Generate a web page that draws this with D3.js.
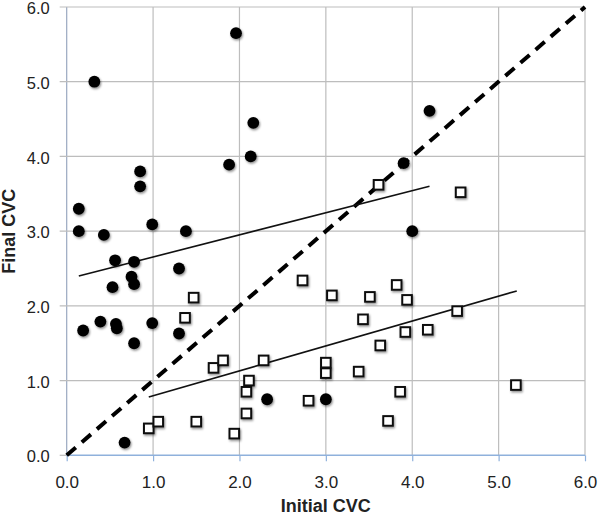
<!DOCTYPE html>
<html><head><meta charset="utf-8">
<script src="https://cdn.jsdelivr.net/npm/d3@7"></script>
<style>html,body{margin:0;padding:0;background:#fff;}svg{display:block;}</style>
</head><body>
<svg id="chart" width="600" height="515"></svg>
<script>
// Filled circles series (Initial CVC, Final CVC)
const circleX = [0.32,1.96,0.85,0.85,2.16,2.13,1.88,4.20,3.90,4.00,0.14,0.14,0.43,0.99,1.38,0.56,0.78,1.30,0.75,0.78,0.53,0.19,0.39,0.57,0.58,0.99,1.30,0.78,0.67,2.32,3.00];
const circleY = [5.00,5.65,3.80,3.60,4.45,4.00,3.89,4.61,3.91,3.00,3.30,3.00,2.95,3.09,3.00,2.61,2.59,2.50,2.39,2.29,2.25,1.67,1.79,1.76,1.70,1.77,1.63,1.50,0.17,0.75,0.75];
// Open squares series
const squareX = [0.95,1.06,1.50,1.47,1.37,1.70,1.81,2.28,2.11,2.08,2.08,1.94,2.80,3.00,3.00,3.38,3.63,3.72,3.86,5.20,3.61,2.73,3.07,3.51,3.82,3.43,4.56,3.94,4.52,3.92,4.18];
const squareY = [0.36,0.45,0.45,2.11,1.84,1.17,1.27,1.27,1.00,0.85,0.56,0.29,0.73,1.24,1.10,1.12,1.47,0.46,0.85,0.94,3.62,2.34,2.14,2.12,2.28,1.82,3.52,2.08,1.93,1.65,1.68];
// Trend lines (endpoints)
const circleTrendX = [0.14, 4.20];
const circleTrendY = [2.40, 3.60];
const squareTrendX = [0.95, 5.21];
const squareTrendY = [0.78, 2.20];
// Identity line
const identityX = [0, 6];
const identityY = [0, 6];
// Ticks
const xTicks = [0,1,2,3,4,5,6];
const yTicks = [0,1,2,3,4,5,6];
const tickLabels = ["0.0","1.0","2.0","3.0","4.0","5.0","6.0"];

const svg = d3.select("#chart");
const x = d3.scaleLinear().domain([0,6]).range([66.7,585]);
const y = d3.scaleLinear().domain([0,6]).range([455.3,7]);

const defs = svg.append("defs");
const f = defs.append("filter").attr("id","sh").attr("x","-50%").attr("y","-50%").attr("width","200%").attr("height","200%");
f.append("feDropShadow").attr("dx",1).attr("dy",1.5).attr("stdDeviation",1.2).attr("flood-color","#000").attr("flood-opacity",0.45);

// grid
const grid = svg.append("g");
grid.selectAll("line.v").data(xTicks).join("line")
  .attr("x1",d=>x(d)).attr("x2",d=>x(d)).attr("y1",y(6)).attr("y2",y(0))
  .attr("stroke",d=>d===0?"#9aa8c0":"#bdbdbd").attr("stroke-width",1.2);
grid.selectAll("line.h").data(yTicks.filter(d=>d>0)).join("line")
  .attr("x1",x(0)-7).attr("x2",x(6)).attr("y1",d=>y(d)).attr("y2",d=>y(d))
  .attr("stroke","#bdbdbd").attr("stroke-width",1.2);
// y=0 tick on left
grid.append("line").attr("x1",x(0)-7).attr("x2",x(0)).attr("y1",y(0)).attr("y2",y(0)).attr("stroke","#bdbdbd").attr("stroke-width",1.2);
// x axis (blue)
const xAxisG = svg.append("g").attr("transform",`translate(0,${y(0)})`)
  .call(d3.axisBottom(x).tickValues(xTicks).tickSize(6).tickFormat((d,i)=>tickLabels[i]));
xAxisG.select(".domain").attr("stroke","#8fb1dc").attr("stroke-width",1.5).attr("d",`M${x(0)},0H${x(6)}`);
xAxisG.selectAll(".tick line").attr("stroke","#8fb1dc").attr("stroke-width",1.2);
xAxisG.selectAll(".tick text").attr("y",21).attr("dy","0.71em").attr("font-family","'Liberation Sans',Arial,sans-serif").attr("font-size",17).attr("fill","#222");
// y axis labels
const yAxisG = svg.append("g").attr("transform",`translate(${x(0)},0)`)
  .call(d3.axisLeft(y).tickValues(yTicks).tickSize(0).tickPadding(17).tickFormat((d,i)=>tickLabels[i]));
yAxisG.select(".domain").remove();
yAxisG.selectAll(".tick text").attr("dy","0.4em").attr("font-family","'Liberation Sans',Arial,sans-serif").attr("font-size",16.5).attr("fill","#222");

// identity dashed line
const line = d3.line().x(d=>x(d[0])).y(d=>y(d[1]));
svg.append("path").datum(identityX.map((v,i)=>[v,identityY[i]])).attr("d",line)
  .attr("fill","none").attr("stroke","#000").attr("stroke-width",4).attr("stroke-dasharray","12,8");

// trend lines
svg.append("path").datum(circleTrendX.map((v,i)=>[v,circleTrendY[i]])).attr("d",line)
  .attr("fill","none").attr("stroke","#111").attr("stroke-width",1.6);
svg.append("path").datum(squareTrendX.map((v,i)=>[v,squareTrendY[i]])).attr("d",line)
  .attr("fill","none").attr("stroke","#111").attr("stroke-width",1.6);

// squares
svg.append("g").selectAll("rect").data(squareX.map((v,i)=>[v,squareY[i]])).join("rect")
  .attr("x",d=>x(d[0])-4.8).attr("y",d=>y(d[1])-4.8).attr("width",9.6).attr("height",9.6)
  .attr("fill","#fff").attr("stroke","#111").attr("stroke-width",2).attr("filter","url(#sh)");
// circles
svg.append("g").selectAll("circle").data(circleX.map((v,i)=>[v,circleY[i]])).join("circle")
  .attr("cx",d=>x(d[0])).attr("cy",d=>y(d[1])).attr("r",5.9)
  .attr("fill","#000").attr("filter","url(#sh)");

// axis titles
svg.append("text").attr("x",x(3)).attr("y",512).attr("text-anchor","middle")
  .attr("font-family","'Liberation Sans',Arial,sans-serif").attr("font-size",18).attr("font-weight","bold").attr("fill","#222")
  .text("Initial CVC");
svg.append("text").attr("transform",`translate(15,${y(3)}) rotate(-90)`).attr("text-anchor","middle")
  .attr("font-family","'Liberation Sans',Arial,sans-serif").attr("font-size",18).attr("font-weight","bold").attr("fill","#222")
  .text("Final CVC");
</script>
</body></html>
